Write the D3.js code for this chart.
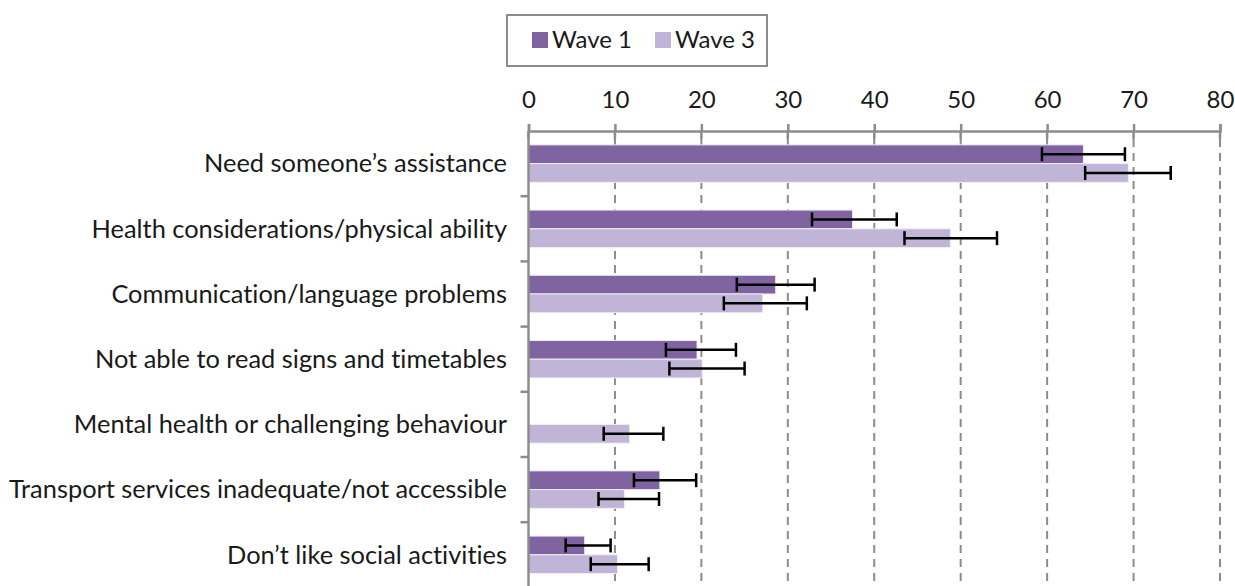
<!DOCTYPE html>
<html>
<head>
<meta charset="utf-8">
<script src="https://cdn.jsdelivr.net/npm/d3@7"></script>
<style>
  body { margin: 0; background: #fff; }
  text { font-family: "Source Sans Pro", Lato, "Noto Sans", sans-serif; fill: #1a1a1a;
         font-variant-ligatures: none; font-feature-settings: "liga" 0, "dlig" 0; }
</style>
</head>
<body>
<div id="chart"></div>
<script>
var categories = [
  "Need someone\u2019s assistance",
  "Health considerations/physical ability",
  "Communication/language problems",
  "Not able to read signs and timetables",
  "Mental health or challenging behaviour",
  "Transport services inadequate/not accessible",
  "Don\u2019t like social activities"
];
var seriesNames = ["Wave 1", "Wave 3"];
var wave1 = [64.2, 37.5, 28.6, 19.5, null, 15.2, 6.5];
var wave1Low = [59.4, 32.8, 24.1, 15.9, null, 12.2, 4.3];
var wave1High = [69.0, 42.6, 33.1, 24.0, null, 19.4, 9.5];
var wave3 = [69.4, 48.8, 27.1, 20.1, 11.7, 11.1, 10.3];
var wave3Low = [64.4, 43.5, 22.6, 16.3, 8.7, 8.1, 7.2];
var wave3High = [74.3, 54.2, 32.2, 25.0, 15.6, 15.1, 13.9];
var xTicks = [0, 10, 20, 30, 40, 50, 60, 70, 80];
var colors = ["#8064a2", "#c0b5d7"];

var width = 1235, height = 586;
var fontSize = 24;
var labelSize = 25.4;
var gridColor = "#8c8c8c";

var svg = d3.select("#chart").append("svg")
  .attr("width", width)
  .attr("height", height);

var xScale = d3.scaleLinear()
  .domain([0, 80])
  .range([528.5, 1220]);

var yScale = d3.scaleBand()
  .domain(categories)
  .range([131, 587.4]);

var inner = d3.scaleBand()
  .domain(seriesNames)
  .range([0, yScale.bandwidth()])
  .paddingOuter(0.74);

// build rows from the arrays
var rows = [];
categories.forEach(function(c, i) {
  rows.push({cat: c, s: "Wave 1", v: wave1[i], lo: wave1Low[i], hi: wave1High[i]});
  rows.push({cat: c, s: "Wave 3", v: wave3[i], lo: wave3Low[i], hi: wave3High[i]});
});
rows = rows.filter(function(d) { return d.v != null; });

// dashed gridlines
svg.append("g")
  .selectAll("line")
  .data(xTicks.slice(1))
  .enter().append("line")
  .attr("x1", function(d) { return xScale(d); })
  .attr("x2", function(d) { return xScale(d); })
  .attr("y1", 139)
  .attr("y2", height)
  .attr("stroke", gridColor)
  .attr("stroke-width", 2)
  .attr("stroke-dasharray", "8,6");

// top axis
var xAxis = svg.append("g")
  .attr("transform", "translate(0,131)")
  .call(d3.axisTop(xScale).tickValues(xTicks).tickSize(7).tickPadding(16).tickFormat(d3.format("d")));
xAxis.select(".domain").attr("stroke", gridColor).attr("stroke-width", 2.5);
xAxis.selectAll(".tick line").attr("stroke", gridColor).attr("stroke-width", 2.5);
xAxis.selectAll(".tick text")
  .attr("font-size", fontSize)
  .attr("font-family", null)
  .attr("fill", "#1a1a1a");
// tick marks continue a bit below the axis
svg.append("g")
  .selectAll("line")
  .data(xTicks)
  .enter().append("line")
  .attr("x1", function(d) { return xScale(d); })
  .attr("x2", function(d) { return xScale(d); })
  .attr("y1", 131)
  .attr("y2", 139)
  .attr("stroke", gridColor)
  .attr("stroke-width", 2.5);

// bars
svg.append("g")
  .selectAll("rect")
  .data(rows)
  .enter().append("rect")
  .attr("x", xScale(0))
  .attr("y", function(d) { return yScale(d.cat) + inner(d.s); })
  .attr("width", function(d) { return xScale(d.v) - xScale(0); })
  .attr("height", inner.bandwidth())
  .attr("fill", function(d) { return colors[seriesNames.indexOf(d.s)]; })
  .attr("stroke", "#f0edf5")
  .attr("stroke-width", 1);

// left category axis
var bounds = categories.map(function(c) { return yScale(c); });
bounds.push(yScale.range()[1]);
svg.append("line")
  .attr("x1", xScale(0)).attr("x2", xScale(0))
  .attr("y1", 131).attr("y2", height)
  .attr("stroke", gridColor).attr("stroke-width", 2.5);
svg.append("g")
  .selectAll("line")
  .data(bounds.slice(1))
  .enter().append("line")
  .attr("x1", xScale(0) - 8).attr("x2", xScale(0))
  .attr("y1", function(d) { return d; })
  .attr("y2", function(d) { return d; })
  .attr("stroke", gridColor).attr("stroke-width", 2.5);

svg.append("g")
  .selectAll("text")
  .data(categories)
  .enter().append("text")
  .attr("x", 507)
  .attr("y", function(d) { return yScale(d) + yScale.bandwidth() / 2; })
  .attr("dy", "0.35em")
  .attr("text-anchor", "end")
  .attr("font-size", labelSize)
  .text(function(d) { return d; });

// error bars
var err = svg.append("g")
  .selectAll("g")
  .data(rows)
  .enter().append("g")
  .attr("transform", function(d) {
    return "translate(0," + (yScale(d.cat) + inner(d.s) + inner.bandwidth() / 2) + ")";
  });
err.append("line")
  .attr("x1", function(d) { return xScale(d.lo); })
  .attr("x2", function(d) { return xScale(d.hi); })
  .attr("stroke", "#000").attr("stroke-width", 2.5);
err.append("line")
  .attr("x1", function(d) { return xScale(d.lo); })
  .attr("x2", function(d) { return xScale(d.lo); })
  .attr("y1", -7).attr("y2", 7)
  .attr("stroke", "#000").attr("stroke-width", 2.5);
err.append("line")
  .attr("x1", function(d) { return xScale(d.hi); })
  .attr("x2", function(d) { return xScale(d.hi); })
  .attr("y1", -7).attr("y2", 7)
  .attr("stroke", "#000").attr("stroke-width", 2.5);

// legend
var legend = svg.append("g");
legend.append("rect")
  .attr("x", 507).attr("y", 15)
  .attr("width", 260).attr("height", 51)
  .attr("fill", "#fff")
  .attr("stroke", gridColor).attr("stroke-width", 2);
var legendX = [532, 655];
seriesNames.forEach(function(s, i) {
  legend.append("rect")
    .attr("x", legendX[i]).attr("y", 32)
    .attr("width", 16).attr("height", 16)
    .attr("fill", colors[i]);
  legend.append("text")
    .attr("x", legendX[i] + 20).attr("y", 48)
    .attr("font-size", fontSize)
    .text(s);
});
</script>
</body>
</html>
